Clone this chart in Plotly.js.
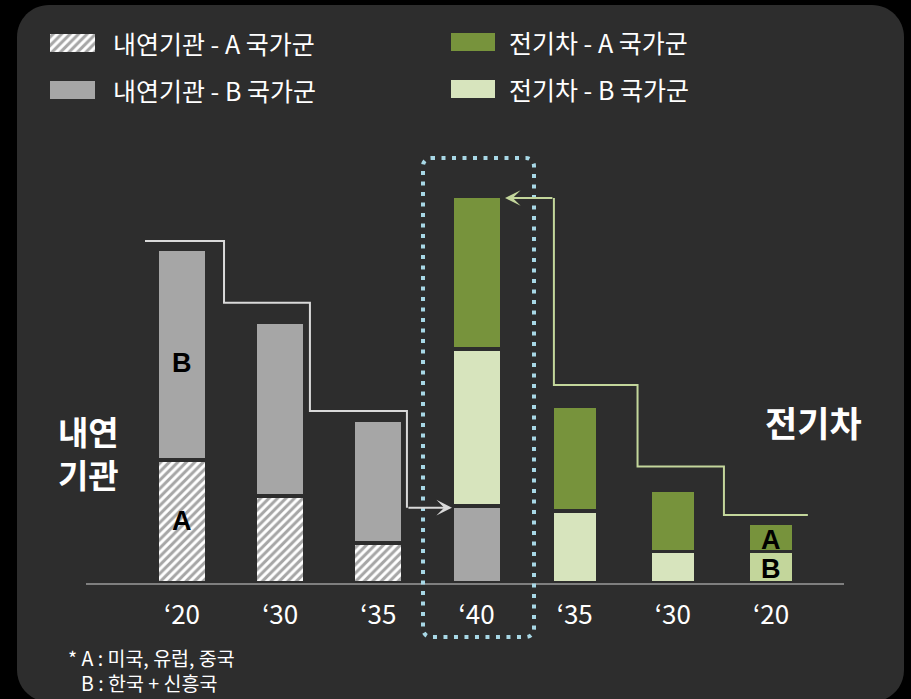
<!DOCTYPE html>
<html>
<head>
<meta charset="utf-8">
<script src="https://cdn.plot.ly/plotly-3.0.1.min.js"></script>
<style>
  html, body { margin: 0; padding: 0; background: #000; }
  #chart { width: 911px; height: 699px; }
</style>
</head>
<body>
<div id="chart"></div>
<script>
// ---- data (1 unit ≈ bar height scale) ----
const tickLabels = ["\u201820", "\u201830", "\u201835", "\u201840", "\u201835", "\u201830", "\u201820"];
const positions = [0, 1, 2, 3, 4, 5, 6];
const iceA = [25.5, 18.0, 8.3, null, null, null, null];     // 내연기관 - A 국가군
const iceB = [43.5, 36.0, 25.5, 15.9, null, null, null];    // 내연기관 - B 국가군
const evB  = [null, null, null, 32.6, 14.9, 6.5, 6.5];      // 전기차 - B 국가군
const evA  = [null, null, null, 31.6, 21.7, 12.7, 5.9];     // 전기차 - A 국가군
const barWidths = [0.505, 0.505, 0.505, 0.505, 0.463, 0.463, 0.463];
// step connector levels
const iceStepX = [-0.377, 0.428, 1.303, 2.291];
const iceStepY = [70.8, 58.0, 35.6, 15.6];
const iceArrowTipX = 2.75;
const evStepX = [6.375, 5.52, 4.64, 3.788];
const evStepY = [14.1, 24.1, 41.0, 79.7];
const evArrowTipX = 3.29;

const BG = '#2d2d2d';
const GRAY = '#a6a6a6';
const DARKG = '#77933c';
const LIGHTG = '#d7e4bd';
const LIGHTG2 = '#c3d69b';
const FONT = '"Noto Sans CJK KR", "Noto Sans", sans-serif';

const W = 911, H = 699;
const px = x => x / W;
const py = y => 1 - y / H;

function roundRect(x0, y0, x1, y1, r) {
  const k = 0.5523 * r;
  const P = (x, y) => px(x) + ',' + py(y);
  return 'M' + P(x0 + r, y0) +
    ' L' + P(x1 - r, y0) +
    ' C' + P(x1 - r + k, y0) + ' ' + P(x1, y0 + r - k) + ' ' + P(x1, y0 + r) +
    ' L' + P(x1, y1 - r) +
    ' C' + P(x1, y1 - r + k) + ' ' + P(x1 - r + k, y1) + ' ' + P(x1 - r, y1) +
    ' L' + P(x0 + r, y1) +
    ' C' + P(x0 + r - k, y1) + ' ' + P(x0, y1 - r + k) + ' ' + P(x0, y1 - r) +
    ' L' + P(x0, y0 + r) +
    ' C' + P(x0, y0 + r - k) + ' ' + P(x0 + r - k, y0) + ' ' + P(x0 + r, y0) + ' Z';
}

const hatch = { shape: '/', fgcolor: '#ffffff', bgcolor: GRAY, size: 6, solidity: 0.5, fillmode: 'replace' };
const gapLine = { color: BG, width: 3.5 };

const traces = [
  { type: 'bar', name: '내연기관 - A 국가군', x: positions, y: iceA, width: barWidths,
    marker: { color: GRAY, pattern: hatch, line: gapLine } },
  { type: 'bar', name: '내연기관 - B 국가군', x: positions, y: iceB, width: barWidths,
    marker: { color: GRAY, line: gapLine } },
  { type: 'bar', name: '전기차 - B 국가군', x: positions, y: evB, width: barWidths,
    marker: { color: [LIGHTG, LIGHTG, LIGHTG, LIGHTG, LIGHTG, LIGHTG, LIGHTG2], line: gapLine } },
  { type: 'bar', name: '전기차 - A 국가군', x: positions, y: evA, width: barWidths,
    marker: { color: DARKG, line: gapLine } },
  { type: 'scatter', mode: 'lines', x: iceStepX, y: iceStepY,
    line: { color: '#d9d9d9', width: 2, shape: 'hv' }, cliponaxis: false },
  { type: 'scatter', mode: 'lines', x: evStepX, y: evStepY,
    line: { color: LIGHTG2, width: 2, shape: 'hv' }, cliponaxis: false },
  // legend swatch (hatched) on a pixel-scaled helper axis
  { type: 'bar', orientation: 'h', xaxis: 'x2', yaxis: 'y2',
    y: [42.5], x: [45], base: [50], width: [18],
    marker: { color: GRAY, pattern: hatch, line: { width: 0 } } }
];

const legendItems = [
  { label: '내연기관 - A 국가군', x: 111, y: 43 },
  { label: '내연기관 - B 국가군', x: 111, y: 90 },
  { label: '전기차 - A 국가군', x: 507, y: 42 },
  { label: '전기차 - B 국가군', x: 507, y: 89 }
];

const annotations = [];
legendItems.forEach(it => annotations.push({
  xref: 'paper', yref: 'paper', x: px(it.x), y: py(it.y), xanchor: 'left', yanchor: 'middle',
  text: it.label, showarrow: false, font: { family: FONT, size: 25, color: '#ffffff' }
}));

// segment letters
const letterFont = { family: '"Liberation Sans", Arial, sans-serif', size: 27, color: '#000000', weight: 700 };
const letter = (x, y, t) => ({ x: x, y: y, text: '<b>' + t + '</b>', showarrow: false,
  xanchor: 'center', yanchor: 'middle', font: letterFont });
annotations.push(
  letter(0, 12.8, 'A'),
  letter(0, 45.6, 'B'),
  letter(6, 9.0, 'A'),
  letter(6, 2.8, 'B')
);

// arrows
annotations.push(
  { x: iceArrowTipX, y: iceStepY[3], ax: iceStepX[3], ay: iceStepY[3], axref: 'x', ayref: 'y',
    text: '', showarrow: true, arrowhead: 3, arrowsize: 1.3, arrowwidth: 2, arrowcolor: '#d9d9d9', standoff: 0 },
  { x: evArrowTipX, y: evStepY[3], ax: evStepX[3], ay: evStepY[3], axref: 'x', ayref: 'y',
    text: '', showarrow: true, arrowhead: 3, arrowsize: 1.3, arrowwidth: 2, arrowcolor: LIGHTG2, standoff: 0 }
);

// side labels
const side = (x, y, t, s) => ({ xref: 'paper', yref: 'paper', x: px(x), y: py(y), xanchor: 'center', yanchor: 'middle',
  text: t, showarrow: false, font: { family: FONT, size: s, color: '#ffffff', weight: 700 } });
annotations.push(
  side(88, 452, '<b>내연</b><br><b>기관</b>', 33),
  side(813, 421, '<b>전기차</b>', 35)
);

// footnote
annotations.push(
  { xref: 'paper', yref: 'paper', x: px(66), y: py(670), xanchor: 'left', yanchor: 'middle', align: 'left',
    text: '* A : 미국, 유럽, 중국<br>&nbsp;&nbsp;&nbsp;B : 한국 + 신흥국', showarrow: false,
    font: { family: FONT, size: 19.5, color: '#ffffff' } }
);

const shapes = [
  { type: 'path', xref: 'paper', yref: 'paper', layer: 'below', path: roundRect(17, 5, 904, 702, 32),
    fillcolor: BG, line: { width: 0 } },
  // legend solid swatches
  { type: 'rect', xref: 'paper', yref: 'paper', layer: 'above', x0: px(50), x1: px(95), y0: py(81), y1: py(99),
    fillcolor: GRAY, line: { width: 0 } },
  { type: 'rect', xref: 'paper', yref: 'paper', layer: 'above', x0: px(451), x1: px(495), y0: py(33), y1: py(51),
    fillcolor: DARKG, line: { width: 0 } },
  { type: 'rect', xref: 'paper', yref: 'paper', layer: 'above', x0: px(451), x1: px(495), y0: py(80), y1: py(98),
    fillcolor: LIGHTG, line: { width: 0 } },
  // dotted highlight box
  { type: 'path', xref: 'paper', yref: 'paper', layer: 'above', path: roundRect(423, 158, 534, 637, 8),
    fillcolor: 'rgba(0,0,0,0)', line: { color: '#a8d8e6', width: 4, dash: '4px,6.5px' } }
];

const layout = {
  width: W, height: H,
  margin: { l: 0, r: 0, t: 0, b: 0 },
  paper_bgcolor: '#000000',
  plot_bgcolor: 'rgba(0,0,0,0)',
  barmode: 'stack',
  showlegend: false,
  hovermode: false,
  font: { family: FONT, color: '#ffffff' },
  xaxis: {
    domain: [px(86), px(844)], range: [-0.978, 6.743],
    tickvals: positions, ticktext: tickLabels, ticks: '',
    tickfont: { family: FONT, size: 26, color: '#ffffff' },
    ticklabelstandoff: 8,
    showline: true, linecolor: '#7f7f7f', linewidth: 2,
    showgrid: false, zeroline: false, fixedrange: true
  },
  yaxis: {
    domain: [py(583), py(100)], range: [0, 100],
    showgrid: false, zeroline: false, showticklabels: false, showline: false, fixedrange: true
  },
  xaxis2: { domain: [0, 1], range: [0, W], visible: false, fixedrange: true },
  yaxis2: { domain: [py(115), py(15)], range: [115, 15], visible: false, fixedrange: true },
  shapes: shapes,
  annotations: annotations
};

Plotly.newPlot('chart', traces, layout, { staticPlot: true, displayModeBar: false });
</script>
</body>
</html>
